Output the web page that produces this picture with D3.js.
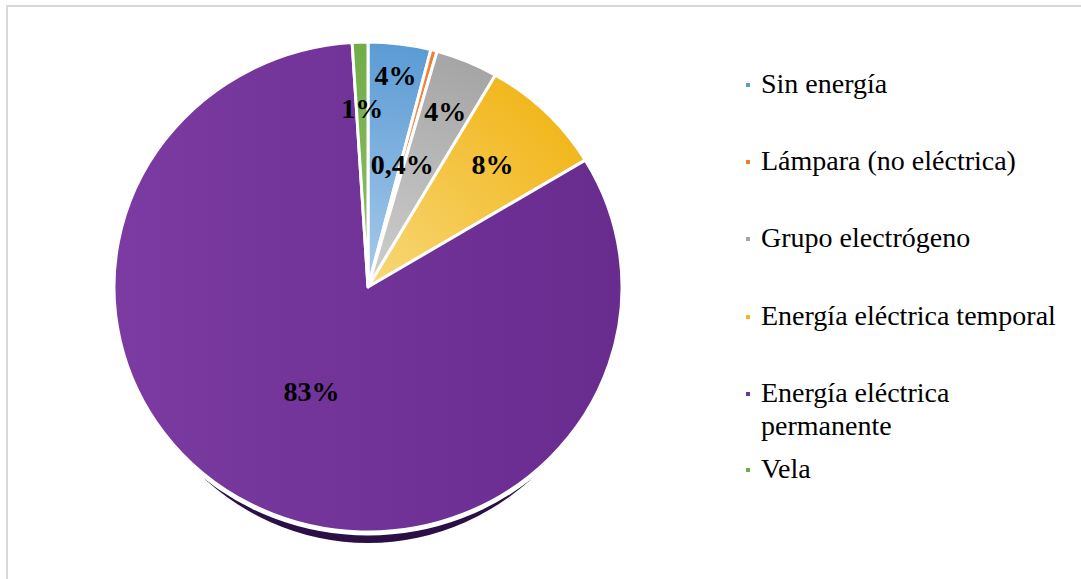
<!DOCTYPE html>
<html>
<head>
<meta charset="utf-8">
<script src="https://cdn.jsdelivr.net/npm/d3@7/dist/d3.min.js"></script>
<style>
  html, body { margin: 0; padding: 0; background: #ffffff; }
  svg { display: block; }
</style>
</head>
<body>
<svg id="chart" width="1081" height="579"></svg>
<script>
// Fuente de energía para iluminación (%)
const categories = ["Sin energía", "Lámpara (no eléctrica)", "Grupo electrógeno",
                    "Energía eléctrica temporal", "Energía eléctrica permanente", "Vela"];
const values = [4, 0.4, 4, 8, 83, 1];
const labels = ["4%", "0,4%", "4%", "8%", "83%", "1%"];

// Colours per category: base tone and lighter inner tone
const baseColors  = ["#5b9bd5", "#ed7d31", "#a5a5a5", "#f2b71e", "#7030a0", "#70ad47"];
const innerColors = ["#a9cbeb", "#f5b08a", "#cfcfcf", "#f7d878", "#6e2f9c", "#8fc06c"];

const svg = d3.select("#chart");
const W = 1081, H = 579;

// outer frame (continues past the right and bottom edges)
svg.append("path")
  .attr("d", `M7,${H + 5} L7,6 L${W + 5},6`)
  .attr("fill", "none")
  .attr("stroke", "#d9d9d9")
  .attr("stroke-width", 2);

const cx = 368, cy = 287, rx = 254, ry = 245;
const defs = svg.append("defs");

baseColors.forEach((c, i) => {
  if (i === 4) {
    const g = defs.append("linearGradient").attr("id", "grad" + i)
      .attr("gradientUnits", "userSpaceOnUse")
      .attr("x1", -rx).attr("y1", 0).attr("x2", rx).attr("y2", 0);
    g.append("stop").attr("offset", "0%").attr("stop-color", "#7b3ba2");
    g.append("stop").attr("offset", "100%").attr("stop-color", "#682b8e");
  } else {
    const g = defs.append("radialGradient").attr("id", "grad" + i)
      .attr("gradientUnits", "userSpaceOnUse")
      .attr("cx", 0).attr("cy", 0).attr("r", rx);
    g.append("stop").attr("offset", "0%").attr("stop-color", innerColors[i]);
    g.append("stop").attr("offset", "100%").attr("stop-color", c);
  }
});

// base rim under the pie: a taller ellipse, clipped to the lower part,
// peeks out below the pie and tapers off toward the sides
defs.append("clipPath").attr("id", "rimClip")
  .append("rect").attr("x", 0).attr("y", cy + 50).attr("width", W).attr("height", H);
svg.append("ellipse")
  .attr("clip-path", "url(#rimClip)")
  .attr("cx", cx).attr("cy", cy - 17).attr("rx", rx).attr("ry", 273)
  .attr("fill", "#2c0f44");

// white halo around the pie outline
svg.append("ellipse")
  .attr("cx", cx).attr("cy", cy).attr("rx", rx).attr("ry", ry)
  .attr("fill", "#ffffff")
  .attr("stroke", "#ffffff")
  .attr("stroke-width", 7);

const pie = d3.pie().sort(null).value(d => d)
  .startAngle(0).endAngle(2 * Math.PI);
const arcs = pie(values);
const arc = d3.arc().innerRadius(0).outerRadius(rx);

const gPie = svg.append("g")
  .attr("transform", `translate(${cx},${cy}) scale(1,${ry / rx})`);

gPie.selectAll("path.slice")
  .data(arcs)
  .join("path")
  .attr("class", "slice")
  .attr("d", arc)
  .attr("fill", (d, i) => `url(#grad${i})`)
  .attr("stroke", "#ffffff")
  .attr("stroke-width", 3)
  .attr("stroke-linejoin", "round")
  .attr("vector-effect", "non-scaling-stroke");

// data labels, placed along each slice's mid angle
const labelRadius = [0.87, 0.52, 0.78, 0.70, 0.48, 0.73];
svg.append("g").selectAll("text")
  .data(arcs)
  .join("text")
  .attr("x", (d, i) => cx + Math.sin((d.startAngle + d.endAngle) / 2) * rx * labelRadius[i])
  .attr("y", (d, i) => cy - Math.cos((d.startAngle + d.endAngle) / 2) * ry * labelRadius[i])
  .attr("dy", "0.35em")
  .attr("text-anchor", "middle")
  .attr("font-family", "'Liberation Serif', 'Times New Roman', serif")
  .attr("font-weight", "bold")
  .attr("font-size", 28)
  .attr("fill", "#000000")
  .text((d, i) => labels[i]);

// legend
const legendX = 761;
const legendY = [93, 170, 247, 325, 402, 478];
const legendLines = categories.map(c =>
  c === "Energía eléctrica permanente" ? ["Energía eléctrica", "permanente"] : [c]);

const leg = svg.append("g");
categories.forEach((c, i) => {
  leg.append("rect")
    .attr("x", legendX - 15).attr("y", legendY[i] - 10)
    .attr("width", 4).attr("height", 4)
    .attr("fill", baseColors[i]);
  const t = leg.append("text")
    .attr("x", legendX).attr("y", legendY[i])
    .attr("font-family", "'Liberation Serif', 'Times New Roman', serif")
    .attr("font-size", 28)
    .attr("fill", "#000000");
  legendLines[i].forEach((line, j) => {
    t.append("tspan").attr("x", legendX).attr("dy", j === 0 ? 0 : 33).text(line);
  });
});
</script>
</body>
</html>
